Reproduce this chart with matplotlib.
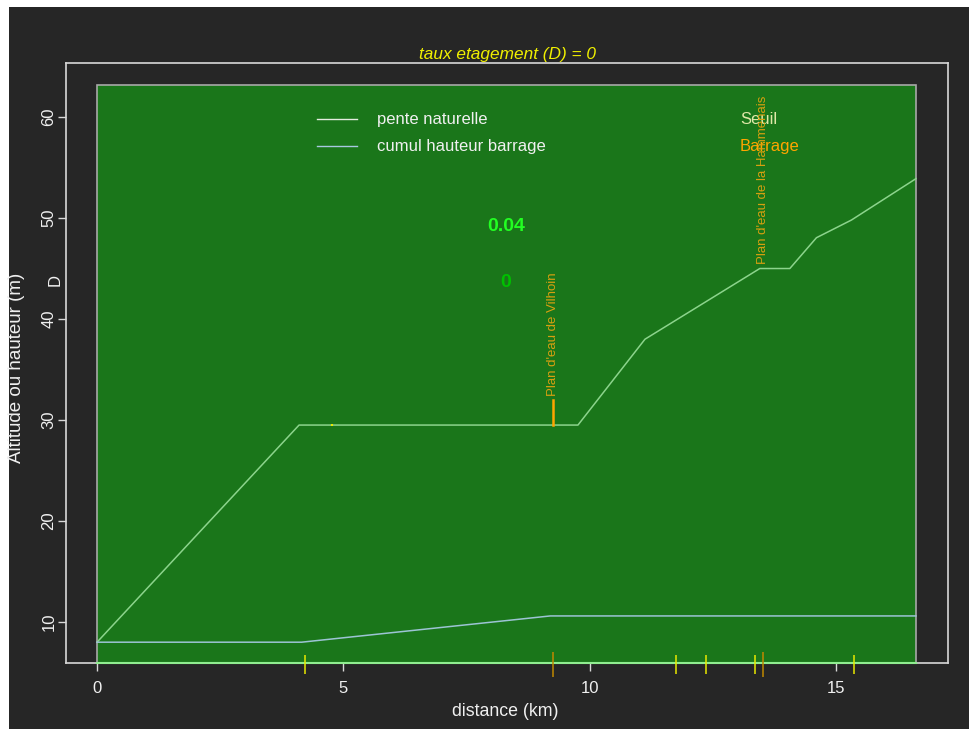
import matplotlib
matplotlib.use("Agg")
import matplotlib.pyplot as plt
from matplotlib.patches import Rectangle

plt.rcParams['font.family'] = ['Liberation Sans', 'DejaVu Sans']

# Longitudinal profile (km, m)
dist_nat = [0, 4.10, 9.76, 11.12, 13.45, 14.06, 14.60, 15.31, 16.62]
alt_nat = [8.0, 29.5, 29.5, 38.0, 45.0, 45.0, 48.05, 49.8, 53.9]

dist_cumul = [0, 4.15, 9.20, 16.62]
haut_cumul = [8.0, 8.0, 10.6, 10.6]

# Obstacles along the river
seuils_km = [4.23, 11.74, 12.35, 13.36, 15.37]
barrages_km = [9.25, 13.52]
barrages_nom = ["Plan d'eau de Vilhoin", "Plan d'eau de la Hammenais"]
barrages_alt = [29.5, 45.0]
barrage_hauteur = [2.5, 0.0]
seuil_pt_km = [4.76]
seuil_pt_alt = [29.5]

taux_global = 0.04
taux_D = 0

x_ticks = [0, 5, 10, 15]
y_ticks = [10, 20, 30, 40, 50, 60]

BG = '#262626'
FG = '#f0f0f0'

fig = plt.figure(figsize=(9.69, 7.29), dpi=100, facecolor='white')
fig.add_artist(Rectangle((9 / 969, 0), 1, 1 - 7 / 729, transform=fig.transFigure,
                         facecolor=BG, edgecolor='none', zorder=-10))

ax = fig.add_axes([66 / 969, 1 - 663 / 729, (948 - 66) / 969, (663 - 63) / 729])
ax.set_facecolor(BG)
ax.set_xlim(-0.63, 17.27)
ax.set_ylim(5.94, 65.35)

xmax = dist_nat[-1]
ax.add_patch(Rectangle((0, 5.94), xmax, 63.17 - 5.94, facecolor='#1a761a',
                       edgecolor='#a8a8a8', linewidth=1.2, zorder=0))
ax.plot([0, xmax], [5.94, 5.94], color='#90ee90', lw=1.5, clip_on=False, zorder=3)

# profiles
ax.plot(dist_nat, alt_nat, color='#8cd48c', lw=1.1, zorder=4)
ax.plot(dist_cumul, haut_cumul, color='#9cc4d4', lw=1.1, zorder=4)
ax.plot(seuil_pt_km, seuil_pt_alt, 's', color='#e8e800', ms=1.8, mew=0, zorder=5)

# obstacle ticks straddling the x axis
ax.vlines(seuils_km, 4.85, 6.73, color='#e8e800', lw=1.1, clip_on=False, zorder=5)
ax.vlines(barrages_km, 4.55, 7.03, color='#c08800', lw=1.1, clip_on=False, zorder=5)

# named reservoirs
for x, nom, z, h in zip(barrages_km, barrages_nom, barrages_alt, barrage_hauteur):
    if h > 0:
        ax.plot([x, x], [z, z + h], color='#ffa500', lw=1.8, zorder=5)
    ax.text(x, z + h + 0.4, nom, rotation=90, ha='center', va='bottom',
            color='#d8a010', fontsize=9.5, zorder=6)

# legend drawn by hand
ax.plot([4.47, 5.28], [59.8, 59.8], color='#e4ece0', lw=1)
ax.plot([4.47, 5.28], [57.1, 57.1], color='#a8c8e0', lw=1)
ax.text(5.68, 59.8, 'pente naturelle', color=FG, fontsize=12, va='center')
ax.text(5.68, 57.1, 'cumul hauteur barrage', color=FG, fontsize=12, va='center')
ax.text(13.05, 59.8, 'Seuil', color='#e0e8a8', fontsize=12, va='center')
ax.text(13.05, 57.1, 'Barrage', color='#ffa500', fontsize=12, va='center')

ax.text(8.3, 49.2, f'{taux_global:g}', color='#22ff22', fontsize=14,
        fontweight='bold', ha='center', va='center')
ax.text(8.3, 43.6, f'{taux_D:g}', color='#00c000', fontsize=14,
        fontweight='bold', ha='center', va='center')

# axes styling
for s in ax.spines.values():
    s.set_color('#d8d8d8')
    s.set_linewidth(1.2)
ax.set_xticks(x_ticks)
ax.set_yticks(y_ticks)
ax.tick_params(colors='#d8d8d8', labelcolor=FG, labelsize=12, length=6, width=1)
ax.tick_params(axis='x', pad=7)
ax.tick_params(axis='y', pad=1)
for lab in ax.get_yticklabels():
    lab.set_rotation(90)
    lab.set_va('center')

fig.text(507 / 969, 1 - 55 / 729, 'taux etagement (D) = 0', color='#f0f000',
         fontsize=12.4, style='italic', ha='center', va='center')
fig.text(505 / 969, 1 - 712 / 729, 'distance (km)', color=FG, fontsize=12.8,
         ha='center', va='center')
fig.text(17 / 969, 1 - 368 / 729, 'Altitude ou hauteur (m)', color=FG, fontsize=13.5,
         rotation=90, ha='center', va='center')
fig.text(55 / 969, 1 - 280 / 729, 'D', color=FG, fontsize=12, rotation=90,
         ha='center', va='center')

fig.savefig('out.png', dpi=100, facecolor=fig.get_facecolor())
